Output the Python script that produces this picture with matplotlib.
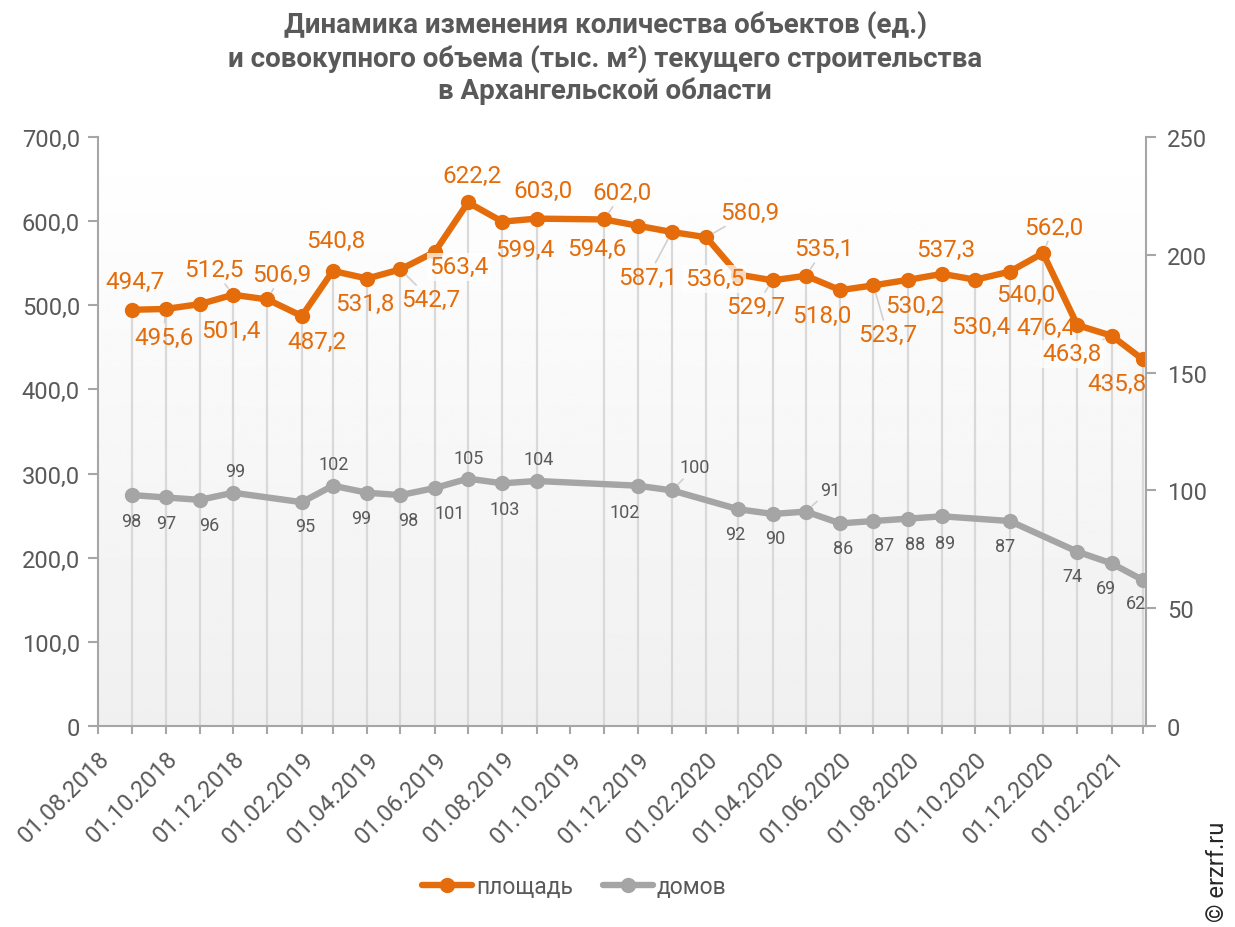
import pandas as pd
import matplotlib
matplotlib.use("Agg")
import matplotlib.pyplot as plt
import matplotlib.dates as mdates
from matplotlib.ticker import FuncFormatter, MultipleLocator
import numpy as np

plt.rcParams['font.family'] = ['Roboto', 'DejaVu Sans']

# площадь, тыс. м2
area_dates = ["2018-09-01", "2018-10-01", "2018-11-01", "2018-12-01", "2019-01-01",
              "2019-02-01", "2019-03-01", "2019-04-01", "2019-05-01", "2019-06-01",
              "2019-07-01", "2019-08-01", "2019-09-01", "2019-11-01", "2019-12-01",
              "2020-01-01", "2020-02-01", "2020-03-01", "2020-04-01", "2020-05-01",
              "2020-06-01", "2020-07-01", "2020-08-01", "2020-09-01", "2020-10-01",
              "2020-11-01", "2020-12-01", "2021-01-01", "2021-02-01", "2021-03-01"]
area = [494.7, 495.6, 501.4, 512.5, 506.9, 487.2, 540.8, 531.8, 542.7, 563.4,
        622.2, 599.4, 603.0, 602.0, 594.6, 587.1, 580.9, 536.5, 529.7, 535.1,
        518.0, 523.7, 530.2, 537.3, 530.4, 540.0, 562.0, 476.4, 463.8, 435.8]

# домов, ед.
house_dates = ["2018-09-01", "2018-10-01", "2018-11-01", "2018-12-01", "2019-02-01",
               "2019-03-01", "2019-04-01", "2019-05-01", "2019-06-01", "2019-07-01",
               "2019-08-01", "2019-09-01", "2019-12-01", "2020-01-01", "2020-03-01",
               "2020-04-01", "2020-05-01", "2020-06-01", "2020-07-01", "2020-08-01",
               "2020-09-01", "2020-11-01", "2021-01-01", "2021-02-01", "2021-03-01"]
houses = [98, 97, 96, 99, 95, 102, 99, 98, 101, 105, 103, 104, 102, 100,
          92, 90, 91, 86, 87, 88, 89, 87, 74, 69, 62]

# label offsets in pixels (dx right, dy down)
area_off = [(3, -28), (-2, 28), (31, 26), (-19, -25), (14, -25), (15, 25), (3, -30),
            (-2, 25), (30, 30), (24, 15), (4, -27), (22, 28), (6, -28), (18, -27),
            (-41, 23), (-24, 45), (44, -25), (-24, 4), (-17, 26), (18, -27),
            (-18, 25), (14, 49), (7, 26), (4, -24), (5, 47), (16, 23), (11, -26),
            (-31, 2), (-40, 18), (-26, 24)]
area_leader = {1, 3, 4, 8, 13, 15, 16, 18, 19, 21, 26, 28}
area_boxed = {9, 17, 28}
house_off = [(-1, 26), (1, 26), (9, 25), (2, -22), (3, 24), (1, -22), (-6, 25),
             (8, 25), (15, 25), (1, -21), (2, 26), (2, -22), (-13, 26), (23, -23),
             (-3, 25), (3, 24), (24, -22), (3, 25), (11, 24), (7, 25), (3, 27),
             (-5, 25), (-5, 24), (-6, 25), (-7, 23)]
house_leader = {13, 16}

ORANGE = "#E46C0A"
GREY = "#A5A5A5"
TXT = "#595959"
AXC = "#A6A6A6"

ad = pd.to_datetime(area_dates)
hd = pd.to_datetime(house_dates)

fig = plt.figure(figsize=(12.35, 9.28), dpi=100)
ax = fig.add_axes([98/1235, 1-727/928, (1146-98)/1235, (727-138)/928])
ax2 = ax.twinx()

# background gradient
grad = np.linspace(0.94, 1.0, 256).reshape(-1, 1)
ax.imshow(grad, extent=[0, 1, 0, 1], transform=ax.transAxes, aspect='auto',
          cmap='gray', vmin=0, vmax=1, origin='lower', zorder=0)

# drop lines
ax.vlines(ad, 0, area, color="#D9D9D9", lw=1.6, zorder=1)

ax.plot(ad, area, color=ORANGE, lw=4.6, marker='o', ms=10, zorder=3,
        solid_capstyle='round', label="площадь")
ax2.plot(hd, houses, color=GREY, lw=4.6, marker='o', ms=10, zorder=3,
         solid_capstyle='round', label="домов")

for i, (d, v) in enumerate(zip(ad, area)):
    dx, dy = area_off[i]
    kw = {}
    if i in area_leader:
        kw['arrowprops'] = dict(arrowstyle='-', color="#D0D0D0", lw=1.2,
                                shrinkA=0, shrinkB=6)
    if i in area_boxed:
        kw['bbox'] = dict(boxstyle='square,pad=0.1', fc='white', ec='none', alpha=0.75)
    ax.annotate(f"{v:.1f}".replace('.', ','), (d, v), xytext=(dx, -dy),
                textcoords='offset pixels', ha='center', va='center',
                fontsize=17.5, color=ORANGE, zorder=5, **kw)

for i, (d, v) in enumerate(zip(hd, houses)):
    dx, dy = house_off[i]
    kw = {}
    if i in house_leader:
        kw['arrowprops'] = dict(arrowstyle='-', color="#D0D0D0", lw=1.2,
                                shrinkA=0, shrinkB=6)
    ax2.annotate(str(v), (d, v), xytext=(dx, -dy), textcoords='offset pixels',
                 ha='center', va='center', fontsize=13, color=TXT, zorder=5, **kw)

ax.set_xlim(pd.Timestamp("2018-08-01"), pd.Timestamp("2021-03-04"))
ax.set_ylim(0, 700)
ax2.set_ylim(0, 250)
ax.yaxis.set_major_locator(MultipleLocator(100))
ax2.yaxis.set_major_locator(MultipleLocator(50))
ax.yaxis.set_major_formatter(FuncFormatter(
    lambda v, p: "0" if v == 0 else f"{v:.1f}".replace('.', ',')))

ax.xaxis.set_major_locator(mdates.MonthLocator(bymonth=(2, 4, 6, 8, 10, 12)))
ax.xaxis.set_minor_locator(mdates.MonthLocator())
ax.xaxis.set_major_formatter(mdates.DateFormatter('%d.%m.%Y'))

for a in (ax, ax2):
    for s in a.spines.values():
        s.set_color(AXC)
        s.set_linewidth(1.5)
    a.spines['top'].set_visible(False)
    a.tick_params(which='both', color=AXC, width=1.5, length=7, labelcolor=TXT)
ax2.spines['left'].set_visible(False)
ax2.spines['bottom'].set_visible(False)
ax.spines['right'].set_visible(False)
ax.tick_params(axis='y', labelsize=17, pad=6)
ax2.tick_params(axis='y', labelsize=17, pad=8)
ax.tick_params(axis='x', which='both', length=6)
ax.tick_params(axis='x', labelsize=17, pad=9)
for lbl in ax.get_xticklabels():
    lbl.set_rotation(45)
    lbl.set_ha('right')
    lbl.set_va('top')
    lbl.set_rotation_mode('anchor')

fig.text(0.49, 1-58/928,
         "Динамика изменения количества объектов (ед.)\n"
         "и совокупного объема (тыс. м²) текущего строительства\n"
         "в Архангельской области",
         ha='center', va='center', ma='center', fontsize=20, fontweight='bold',
         color=TXT, linespacing=1.22)

h1, l1 = ax.get_legend_handles_labels()
h2, l2 = ax2.get_legend_handles_labels()
fig.legend(h1 + h2, l1 + l2, loc='center', bbox_to_anchor=(574/1235, 1-888/928),
           ncol=2, frameon=False, fontsize=16.5, handlelength=2.2,
           handletextpad=0.15, columnspacing=1.3, labelcolor=TXT)

fig.text(1218/1235, 1-872/928, "© erzrf.ru", rotation=90, ha='center', va='center',
         fontsize=17, color="#262626")

fig.savefig("out.png", dpi=100)
